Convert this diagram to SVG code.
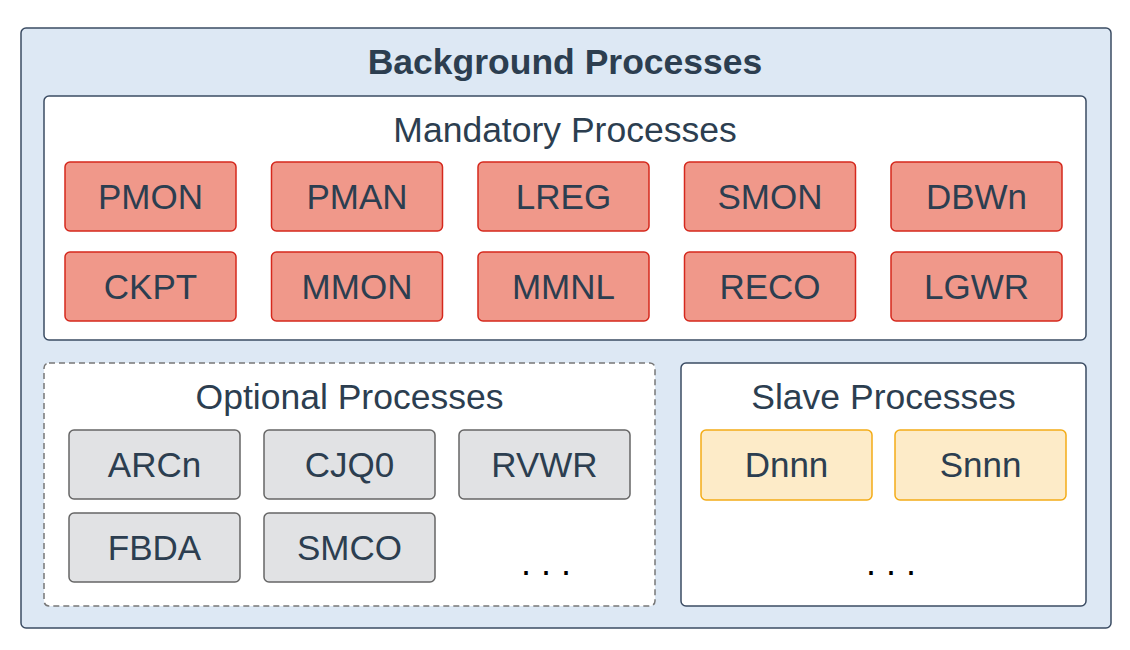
<svg xmlns="http://www.w3.org/2000/svg" width="1130" height="650" viewBox="0 0 1130 650">
<style>
text{font-family:"Liberation Sans",Arial,sans-serif;fill:#2c3e50;text-anchor:middle}
.title{font-size:35.5px;font-weight:bold}
.head{font-size:35.5px}
.lbl{font-size:35px}
.dots{font-size:36px;fill:#000}
.red{fill:#f0988a;stroke:#d5281d;stroke-width:1.5}
.gray{fill:#e1e2e4;stroke:#666;stroke-width:1.5}
.yel{fill:#fdebc8;stroke:#f3ac17;stroke-width:1.5}
</style>
<rect width="1130" height="650" fill="#fff"/>
<g id="background">
<rect x="21" y="28" width="1090" height="600" rx="5" fill="#dde8f4" stroke="#3b4c63" stroke-width="1.5"/>
<text class="title" x="565" y="74">Background Processes</text>
</g>
<g id="mandatory">
<rect x="44" y="96" width="1042" height="244" rx="5" fill="#fff" stroke="#3b4c63" stroke-width="1.5"/>
<text class="head" x="565" y="142">Mandatory Processes</text>
</g>
<g id="pmon"><rect class="red" x="65" y="162" width="171" height="69" rx="5"/><text class="lbl" x="150.5" y="209">PMON</text></g>
<g id="pman"><rect class="red" x="271.5" y="162" width="171" height="69" rx="5"/><text class="lbl" x="357" y="209">PMAN</text></g>
<g id="lreg"><rect class="red" x="478" y="162" width="171" height="69" rx="5"/><text class="lbl" x="563.5" y="209">LREG</text></g>
<g id="smon"><rect class="red" x="684.5" y="162" width="171" height="69" rx="5"/><text class="lbl" x="770" y="209">SMON</text></g>
<g id="dbwn"><rect class="red" x="891" y="162" width="171" height="69" rx="5"/><text class="lbl" x="976.5" y="209">DBWn</text></g>
<g id="ckpt"><rect class="red" x="65" y="252" width="171" height="69" rx="5"/><text class="lbl" x="150.5" y="299">CKPT</text></g>
<g id="mmon"><rect class="red" x="271.5" y="252" width="171" height="69" rx="5"/><text class="lbl" x="357" y="299">MMON</text></g>
<g id="mmnl"><rect class="red" x="478" y="252" width="171" height="69" rx="5"/><text class="lbl" x="563.5" y="299">MMNL</text></g>
<g id="reco"><rect class="red" x="684.5" y="252" width="171" height="69" rx="5"/><text class="lbl" x="770" y="299">RECO</text></g>
<g id="lgwr"><rect class="red" x="891" y="252" width="171" height="69" rx="5"/><text class="lbl" x="976.5" y="299">LGWR</text></g>
<g id="optional">
<rect x="44" y="363" width="611" height="243" rx="5" fill="#fff" stroke="#777" stroke-width="1.5" stroke-dasharray="6,4"/>
<text class="head" x="349.5" y="409">Optional Processes</text>
<text class="dots" x="546" y="575">. . .</text>
</g>
<g id="arcn"><rect class="gray" x="69" y="430" width="171" height="69" rx="5"/><text class="lbl" x="154.5" y="477">ARCn</text></g>
<g id="cjq0"><rect class="gray" x="264" y="430" width="171" height="69" rx="5"/><text class="lbl" x="349.5" y="477">CJQ0</text></g>
<g id="rvwr"><rect class="gray" x="459" y="430" width="171" height="69" rx="5"/><text class="lbl" x="544.5" y="477">RVWR</text></g>
<g id="fbda"><rect class="gray" x="69" y="513" width="171" height="69" rx="5"/><text class="lbl" x="154.5" y="560">FBDA</text></g>
<g id="smco"><rect class="gray" x="264" y="513" width="171" height="69" rx="5"/><text class="lbl" x="349.5" y="560">SMCO</text></g>
<g id="slave">
<rect x="681" y="363" width="405" height="243" rx="5" fill="#fff" stroke="#3b4c63" stroke-width="1.5"/>
<text class="head" x="883.5" y="409">Slave Processes</text>
<text class="dots" x="891" y="575">. . .</text>
</g>
<g id="dnnn"><rect class="yel" x="701" y="430" width="171" height="70" rx="5"/><text class="lbl" x="786.5" y="477">Dnnn</text></g>
<g id="snnn"><rect class="yel" x="895" y="430" width="171" height="70" rx="5"/><text class="lbl" x="980.5" y="477">Snnn</text></g>
<g id="connectors"></g>
</svg>
